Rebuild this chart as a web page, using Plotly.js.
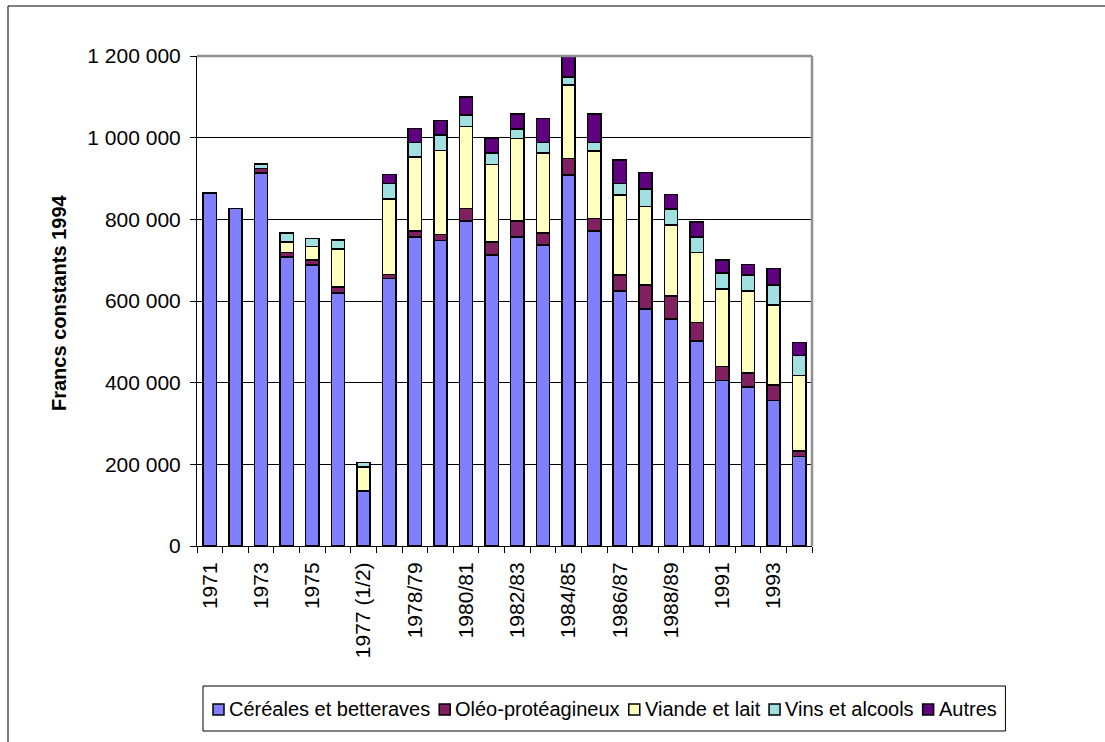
<!DOCTYPE html>
<html>
<head>
<meta charset="utf-8">
<script src="https://cdn.plot.ly/plotly-3.0.1.min.js"></script>
<style>
  html, body { margin: 0; padding: 0; background: #fff; }
  #chart { width: 1105px; height: 742px; }
</style>
</head>
<body>
<div id="chart"></div>
<script>
const categories = ["1971","1972","1973","1974","1975","1976","1977 (1/2)","1977/78","1978/79","1979/80","1980/81","1981/82","1982/83","1983/84","1984/85","1985/86","1986/87","1987/88","1988/89","1989/90","1991","1992","1993","1994"];
const shownLabels = ["1971","1973","1975","1977 (1/2)","1978/79","1980/81","1982/83","1984/85","1986/87","1988/89","1991","1993"];

const cereales = [865000,826000,914000,708000,688000,620000,135000,655000,757000,748000,796000,713000,757000,737000,909000,772000,625000,580000,556000,502000,405000,390000,356000,219000];
const oleo     = [0,0,11000,11000,12000,14000,0,10000,15000,15000,30000,31000,39000,30000,40000,30000,39000,59000,56000,45000,34000,34000,38000,14000];
const viande   = [0,0,0,25000,33000,93000,59000,185000,181000,205000,201000,190000,202000,196000,180000,165000,196000,192000,174000,172000,191000,200000,196000,185000];
const vins     = [0,0,10000,23000,20000,22000,10000,38000,35000,38000,28000,28000,23000,25000,20000,21000,28000,43000,39000,38000,38000,40000,49000,49000];
const autres   = [0,0,0,0,0,0,0,22000,35000,36000,45000,36000,37000,59000,51000,70000,57000,41000,36000,36000,32000,26000,40000,31000];

const seriesNames = ["Céréales et betteraves","Oléo-protéagineux","Viande et lait","Vins et alcools","Autres"];
const seriesColors = ["#8080FF","#802060","#FFFFC0","#A0E0E0","#600080"];
const seriesData = [cereales, oleo, viande, vins, autres];

const FONT = "Liberation Sans, Arial, sans-serif";
const TICK_SIZE = 21;
const LEG_SIZE = 20;

// plot area in pixels
const W = 1105, H = 742;
const M = { l: 197, r: 293, t: 56, b: 196 };
const pw = W - M.l - M.r, ph = H - M.t - M.b;
const px2x = px => (px - M.l) / pw;
const px2y = py => (H - M.b - py) / ph;

const traces = seriesData.map((vals, i) => ({
  type: "bar",
  name: seriesNames[i],
  x: categories,
  y: vals,
  marker: { color: seriesColors[i], line: { color: "#000", width: 1.5 } },
  hovertemplate: "%{x}: %{y}<extra>" + seriesNames[i] + "</extra>",
  showlegend: false
}));

const tickText = categories.map(c => shownLabels.includes(c) ? c : "");

// custom Excel-style legend (one row, small squares close to text)
const ctx = document.createElement("canvas").getContext("2d");
ctx.font = LEG_SIZE + "px " + FONT;
const sq = 11, gapAfterSq = 4, gapBetween = 10, pad = 10;
const widths = seriesNames.map(n => ctx.measureText(n).width);
const total = pad * 2 + widths.reduce((a, b) => a + b, 0) + seriesNames.length * (sq + gapAfterSq) + (seriesNames.length - 1) * gapBetween;
const boxL = 203, boxT = 686, boxB = 731;
const boxR = boxL + total;
const midY = (boxT + boxB) / 2;

const legendShapes = [{
  type: "rect", xref: "paper", yref: "paper",
  x0: px2x(boxL), x1: px2x(boxR), y0: px2y(boxT), y1: px2y(boxB),
  line: { color: "#000", width: 1 }, fillcolor: "rgba(0,0,0,0)"
}];
const legendAnn = [];
let cx = boxL + pad;
seriesNames.forEach((n, i) => {
  legendShapes.push({
    type: "rect", xref: "paper", yref: "paper",
    x0: px2x(cx), x1: px2x(cx + sq), y0: px2y(midY - sq / 2 + 1), y1: px2y(midY + sq / 2 + 1),
    line: { color: "#000", width: 1.5 }, fillcolor: seriesColors[i]
  });
  cx += sq + gapAfterSq;
  legendAnn.push({
    text: n, xref: "paper", yref: "paper",
    x: px2x(cx), y: px2y(midY), xanchor: "left", yanchor: "middle",
    showarrow: false, font: { family: FONT, size: LEG_SIZE, color: "#000" },
    borderpad: 0
  });
  cx += widths[i] + gapBetween;
});

const layout = {
  width: W, height: H,
  margin: M,
  paper_bgcolor: "#fff", plot_bgcolor: "#fff",
  barmode: "stack",
  bargap: 0.48,
  separators: ", ",
  font: { family: FONT, size: 16, color: "#000" },
  showlegend: false,
  xaxis: {
    type: "category",
    tickmode: "array",
    tickvals: categories,
    ticktext: tickText,
    tickson: "boundaries",
    ticks: "outside", ticklen: 6, tickcolor: "#000",
    tickangle: -90,
    ticklabelstandoff: 7,
    showline: true, linecolor: "#000", linewidth: 1,
    showgrid: false,
    tickfont: { family: FONT, size: TICK_SIZE, color: "#000" }
  },
  yaxis: {
    range: [0, 1200000],
    tickmode: "linear", tick0: 0, dtick: 200000,
    tickformat: ",d",
    ticks: "outside", ticklen: 6, tickcolor: "#000",
    ticklabelstandoff: 5,
    showline: true, linecolor: "#000", linewidth: 1,
    showgrid: true, gridcolor: "#000", gridwidth: 1,
    zeroline: false,
    tickfont: { family: FONT, size: TICK_SIZE, color: "#000" }
  },
  annotations: [{
    text: "<b>Francs constants 1994</b>",
    xref: "paper", yref: "paper",
    x: px2x(59), y: px2y(303),
    xanchor: "center", yanchor: "middle",
    textangle: -90, showarrow: false,
    font: { family: FONT, size: 20, color: "#000" }
  }].concat(legendAnn),
  shapes: [
    { type: "line", xref: "paper", yref: "paper", x0: 0, x1: 1, y0: 1, y1: 1, line: { color: "#909090", width: 2.5 }, layer: "above" },
    { type: "line", xref: "paper", yref: "paper", x0: 1, x1: 1, y0: 0, y1: 1, line: { color: "#909090", width: 2.5 }, layer: "above" },
    { type: "line", xref: "paper", yref: "paper", x0: px2x(8), x1: px2x(1105), y0: px2y(6), y1: px2y(6), line: { color: "#000", width: 1 } },
    { type: "line", xref: "paper", yref: "paper", x0: px2x(8), x1: px2x(8), y0: px2y(6), y1: px2y(742), line: { color: "#000", width: 1 } }
  ].concat(legendShapes)
};

Plotly.newPlot("chart", traces, layout, { displayModeBar: false });
</script>
</body>
</html>
